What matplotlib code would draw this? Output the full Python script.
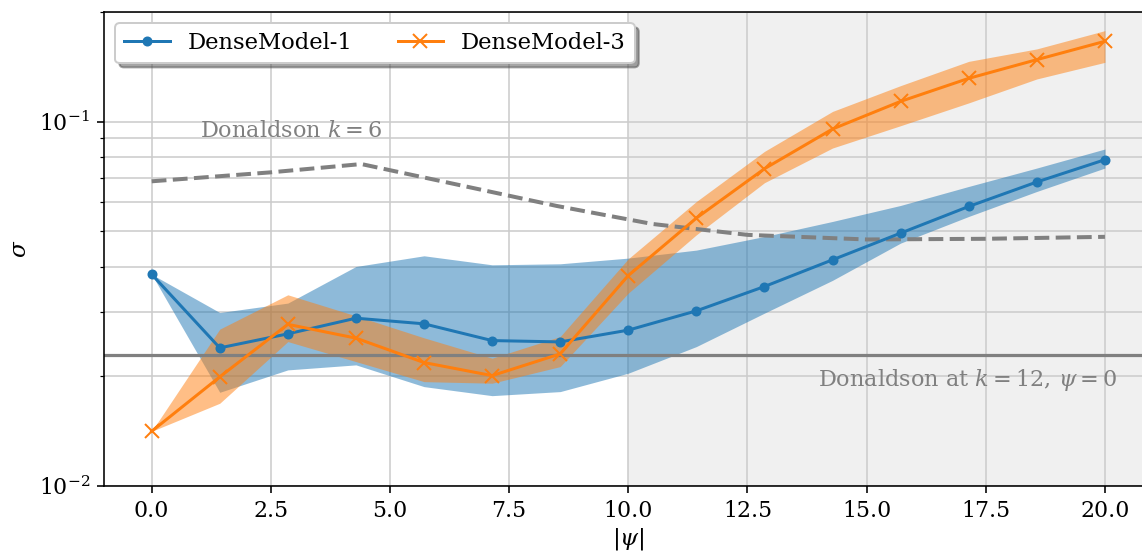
import numpy as np
import matplotlib.pyplot as plt

# CONFIG
plt.rcParams['font.family'] = 'DejaVu Serif'
plt.rcParams['mathtext.fontset'] = 'dejavuserif'
plt.rcParams['font.size'] = 11

# psi grid (15 evaluation points)
psi = np.linspace(0, 20, 15)

# DenseModel-1
dm1_mean = [0.03811, 0.02394, 0.02616, 0.02888, 0.02787, 0.02507, 0.02486, 0.02678,
            0.03025, 0.03528, 0.04177, 0.04945, 0.05852, 0.06831, 0.07863]
dm1_upper = [0.03811, 0.02993, 0.03177, 0.04004, 0.04284, 0.04047, 0.04073, 0.04222,
             0.04441, 0.04840, 0.05323, 0.05890, 0.06641, 0.07460, 0.08414]
dm1_lower = [0.03811, 0.01808, 0.02083, 0.02150, 0.01874, 0.01770, 0.01816, 0.02040,
             0.02414, 0.02982, 0.03669, 0.04643, 0.05494, 0.06434, 0.07460]

# DenseModel-3
dm3_mean = [0.01413, 0.01993, 0.02778, 0.02546, 0.02182, 0.02009, 0.02305, 0.03782,
            0.05438, 0.07428, 0.09548, 0.1137, 0.1315, 0.1480, 0.1662]
dm3_upper = [0.01413, 0.02695, 0.03348, 0.02931, 0.02551, 0.02243, 0.02572, 0.04204,
             0.06039, 0.08288, 0.1067, 0.1256, 0.1464, 0.1584, 0.1778]
dm3_lower = [0.01413, 0.01687, 0.02491, 0.02195, 0.01934, 0.01915, 0.02127, 0.03384,
             0.04892, 0.06800, 0.08467, 0.0975, 0.1126, 0.1310, 0.1455]

# Donaldson references
donaldson_k6_psi = [0, 2.5, 4.4, 6.5, 8.5, 10.5, 12.5, 15, 17.5, 20]
donaldson_k6 = [0.0686, 0.0726, 0.0765, 0.0668, 0.0587, 0.0524, 0.0489, 0.0475, 0.0477, 0.0483]
donaldson_k12_psi0 = 0.0229

# === Plot ===
fig = plt.figure(figsize=(1142 / 144, 554 / 144), dpi=144)
ax = fig.add_axes([104 / 1142, 68 / 554, 1048.6 / 1142, 474 / 554])

ax.axvspan(10, 25, color='0.94', zorder=0, lw=0)

ax.fill_between(psi, dm1_lower, dm1_upper, color='tab:blue', alpha=0.5, lw=0, zorder=2)
ax.fill_between(psi, dm3_lower, dm3_upper, color='tab:orange', alpha=0.5, lw=0, zorder=2)
ax.plot(psi, dm1_mean, color='tab:blue', marker='o', markersize=4, label='DenseModel-1', zorder=3)
ax.plot(psi, dm3_mean, color='tab:orange', marker='x', markersize=7, label='DenseModel-3', zorder=3)

ax.plot(donaldson_k6_psi, donaldson_k6, color='gray', linestyle='--', lw=2, zorder=2)
ax.axhline(donaldson_k12_psi0, color='gray', lw=1.6, zorder=2)

ax.text(2.94, 0.0945, r'Donaldson $k=6$', color='gray', fontsize=11.2, ha='center', va='center')
ax.text(17.12, 0.01954, r'Donaldson at $k=12$, $\psi=0$', color='gray', fontsize=11.2,
        ha='center', va='center')

ax.set_yscale('log')
ax.set_xlim(-1, 21)
ax.set_ylim(0.01, 0.2)
ax.grid(True, which='both', color='0.8', lw=0.8, zorder=1)
ax.set_axisbelow(True)

ax.set_xlabel(r'$|\psi|$', fontsize=11.5, labelpad=2)
ax.set_ylabel(r'$\sigma$', fontsize=11.5)
ax.legend(loc='upper left', ncol=2, shadow=True, fontsize=11.3)

plt.savefig('out.png', dpi=144)
